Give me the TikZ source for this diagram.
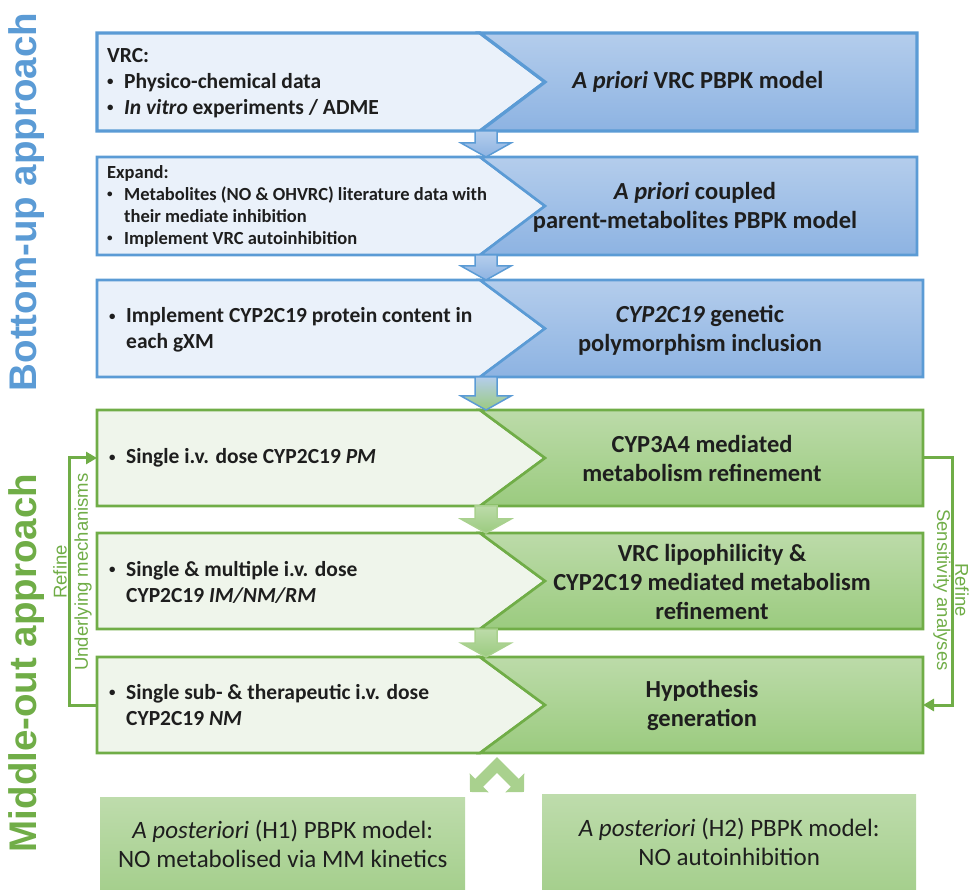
\documentclass[tikz,border=0pt]{standalone}
\usepackage{fontspec}
\setmainfont{Carlito}
\newfontfamily\arialfont{Liberation Sans}
\usetikzlibrary{arrows.meta,positioning,calc}

\definecolor{Bline}{HTML}{5B9BD5}
\definecolor{Blight}{HTML}{EAF1FA}
\definecolor{Btop}{HTML}{B4CDEC}
\definecolor{Bbot}{HTML}{8DB3E2}
\definecolor{Gline}{HTML}{70AD47}
\definecolor{Glight}{HTML}{EFF5EB}
\definecolor{Gtop}{HTML}{BCDBA9}
\definecolor{Gbot}{HTML}{9BCB7F}
\definecolor{Gpale}{HTML}{A9D18E}
\definecolor{Htop}{HTML}{BEDCAC}
\definecolor{Hbot}{HTML}{A5CF8D}
\definecolor{inktext}{HTML}{1E1E1E}

\newcommand{\bul}{\makebox[17pt][l]{\raisebox{0.12em}{\scalebox{0.6}{\textbullet}}}}
\newcommand{\cnt}{\hspace*{17pt}}

\tikzset{
  lefttext/.style={anchor=west, align=left, inner sep=0pt, text=inktext,
    font=\bfseries\fontsize{21.5}{26}\selectfont},
  righttext/.style={align=center, inner sep=0pt, text=inktext,
    font=\bfseries\fontsize{24.5}{29}\selectfont},
  sidetitle/.style={inner sep=0pt, font=\arialfont\bfseries\fontsize{38.5}{42}\selectfont},
  looplabel/.style={inner sep=0pt, text=Gline, font=\arialfont\fontsize{18.5}{20}\selectfont},
  feedback/.style={draw=Gline, line width=3pt, -{Triangle[length=11pt,width=12pt]}},
  hypbox/.style={anchor=north west, inner sep=0pt, align=center, top color=Htop,
    bottom color=Hbot, text=inktext, font=\fontsize{25}{29}\selectfont},
  splitarrow/.style={draw=Gpale, line width=11pt, line join=miter,
    arrows={Triangle[length=13pt,width=26pt]-Triangle[length=13pt,width=26pt]}}
}

\begin{document}
\begin{tikzpicture}[x=1pt, y=-1pt]
\useasboundingbox (0,0) rectangle (970,890);
% stages: top / bottom / right end / colour set / border
\foreach \ya/\yb/\xr/\col/\lw [count=\i] in {33/131/917/B/3.2, 157/255/917/B/2.6,
    280/377/923/B/2.6, 410/506/923/G/2.6, 533/629/923/G/2.6, 657/753/923/G/2.6} {
  \pgfmathsetmacro\ym{(\ya+\yb)/2}
  \draw[draw=\col line, fill=\col light, line width=\lw pt, line join=miter]
    (97,\ya) -- (480,\ya) -- (545,\ym) -- (480,\yb) -- (97,\yb) -- cycle;
  \draw[draw=\col line, top color=\col top, bottom color=\col bot, line width=\lw pt, line join=miter]
    (480,\ya) -- (\xr,\ya) -- (\xr,\yb) -- (480,\yb) -- (545,\ym) -- cycle;
  \coordinate (w\i) at (97,\ym);
  \coordinate (e\i) at (\xr,\ym);
}
% block arrows between stages
\foreach \ya/\yb/\ct/\cb/\cl in {131/157/Btop/Bbot/Bline, 255/280/Btop/Bbot/Bline,
    377/410/Btop/Gbot/Bline, 506/533/Gtop/Gbot/Gpale, 629/657/Gtop/Gbot/Gpale}
  \draw[draw=\cl, top color=\ct, bottom color=\cb, line width=1.5pt, line join=miter]
    (475,\ya) -- (497,\ya) -- (497,\yb-14) -- (511,\yb-14) -- (486,\yb)
    -- (461,\yb-14) -- (475,\yb-14) -- cycle;

\node[sidetitle, text=Bline, rotate=90] (bottomup) at (27,202) {Bottom-up approach};
\node[sidetitle, text=Gline, rotate=90] (middleout) at (27,663) {Middle-out approach};

\node[lefttext] (in1) at (107,83) {VRC:\\ \bul Physico-chemical data\\ \bul \textit{In vitro} experiments / ADME};
\node[lefttext, font=\bfseries\fontsize{18.5}{22}\selectfont] (in2) at (107,206)
  {Expand:\\ \bul Metabolites (NO \& OHVRC) literature data with\\ \cnt their mediate inhibition\\ \bul Implement VRC autoinhibition};
\node[lefttext] (in3) at (109,330) {\bul Implement CYP2C19 protein content in\\ \cnt each gXM};
\node[lefttext] (in4) at (109,458) {\bul Single i.v. dose CYP2C19 \textit{PM}};
\node[lefttext] (in5) at (109,582) {\bul Single \& multiple i.v. dose\\ \cnt CYP2C19 \textit{IM/NM/RM}};
\node[lefttext] (in6) at (109,705) {\bul Single sub- \& therapeutic i.v. dose\\ \cnt CYP2C19 \textit{NM}};

\node[righttext] (out1) at (698,82) {\textit{A priori} VRC PBPK model};
\node[righttext] (out2) at (695,207) {\textit{A priori} coupled\\ parent-metabolites PBPK model};
\node[righttext] (out3) at (700,330) {\textit{CYP2C19} genetic\\ polymorphism inclusion};
\node[righttext] (out4) at (702,458) {CYP3A4 mediated\\ metabolism refinement};
\node[righttext] (out5) at (712,582) {VRC lipophilicity \&\\ CYP2C19 mediated metabolism\\ refinement};
\node[righttext] (out6) at (702,705) {Hypothesis\\ generation};

% refinement loops
\draw[feedback] (w6) -- ++(-28,0) |- (w4);
\draw[feedback] (e4) -- ++(29,0) |- (e6);
\node[looplabel, rotate=90] (refineL) at (60,572) {Refine};
\node[looplabel, rotate=90] (mechL) at (83,572) {Underlying mechanisms};
\node[looplabel, rotate=-90] (sensR) at (942,590) {Sensitivity analyses};
\node[looplabel, rotate=-90] (refineR) at (962,590) {Refine};

% hypotheses
\coordinate (apex) at (497,765);
\coordinate (tipL) at (470,792);
\coordinate (tipR) at (524,792);
\draw[splitarrow] (tipL) -- (apex) -- (tipR);
\node[hypbox, minimum width=365pt, minimum height=93pt] (hyp1) at (100,797)
  {\textit{A posteriori} (H1) PBPK model:\\ NO metabolised via MM kinetics};
\node[hypbox, minimum width=374pt, minimum height=96pt] (hyp2) at (542,794)
  {\textit{A posteriori} (H2) PBPK model:\\ NO autoinhibition};
\end{tikzpicture}
\end{document}
